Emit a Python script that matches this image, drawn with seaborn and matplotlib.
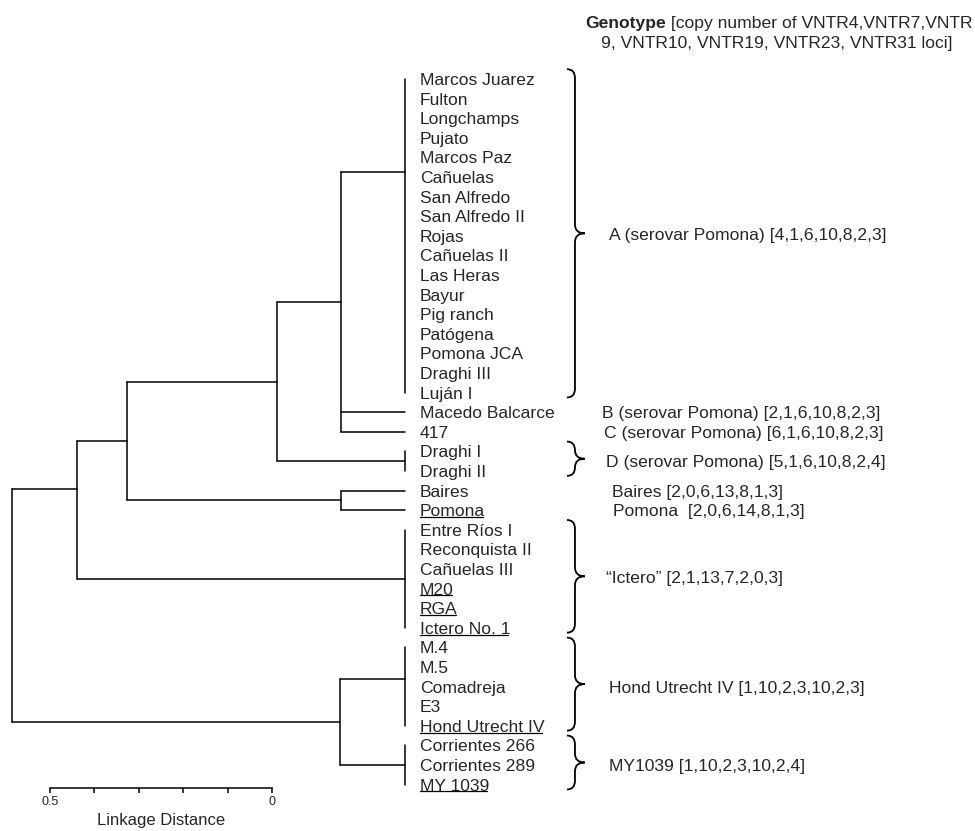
import seaborn as sns
import matplotlib.pyplot as plt
import pandas as pd
from matplotlib.path import Path
from matplotlib.patches import PathPatch
from matplotlib.lines import Line2D
from matplotlib.transforms import IdentityTransform

# leaves, top to bottom
leaves = ['Marcos Juarez', 'Fulton', 'Longchamps', 'Pujato', 'Marcos Paz', 'Cañuelas',
          'San Alfredo', 'San Alfredo II', 'Rojas', 'Cañuelas II', 'Las Heras', 'Bayur',
          'Pig ranch', 'Patógena', 'Pomona JCA', 'Draghi III', 'Luján I',
          'Macedo Balcarce', '417', 'Draghi I', 'Draghi II', 'Baires', 'Pomona',
          'Entre Ríos I', 'Reconquista II', 'Cañuelas III', 'M20', 'RGA', 'Ictero No. 1',
          'M.4', 'M.5', 'Comadreja', 'E3', 'Hond Utrecht IV',
          'Corrientes 266', 'Corrientes 289', 'MY 1039']
underlined = ['Pomona', 'M20', 'RGA', 'Ictero No. 1', 'Hond Utrecht IV', 'MY 1039']

# groups of identical genotypes (distance 0): first and last leaf index
group_names = ['A', 'B', 'C', 'D', 'Baires', 'Pomona', 'Ictero', 'Hond', 'MY']
group_first = [0, 17, 18, 19, 21, 22, 23, 29, 34]
group_last = [16, 17, 18, 20, 21, 22, 28, 33, 36]
# where a branch joins its parent, when it is not the middle of the group
anchor = {'A': 4.75, 'Hond': 30.6, 'n1': 20.9}

# merges, bottom-up
merge_names = ['n4', 'n3', 'bp', 'n2', 'n1', 'bt', 'root']
merge_children = [['A', 'B', 'C'], ['n4', 'D'], ['Baires', 'Pomona'], ['n3', 'bp'],
                  ['n2', 'Ictero'], ['Hond', 'MY'], ['n1', 'bt']]
merge_height = [0.145, 0.289, 0.145, 0.627, 0.738, 0.146, 0.885]

# genotype annotations
genotype_labels = ['A (serovar Pomona) [4,1,6,10,8,2,3]',
                   'B (serovar Pomona) [2,1,6,10,8,2,3]',
                   'C (serovar Pomona) [6,1,6,10,8,2,3]',
                   'D (serovar Pomona) [5,1,6,10,8,2,4]',
                   'Baires [2,0,6,13,8,1,3]',
                   'Pomona  [2,0,6,14,8,1,3]',
                   '\u201cIctero\u201d [2,1,13,7,2,0,3]',
                   'Hond Utrecht IV [1,10,2,3,10,2,3]',
                   'MY1039 [1,10,2,3,10,2,4]']
genotype_pos = [7.9, 17, 18, 19.5, 21, 22, 25.4, 31, 35]
genotype_x = [-0.46, -0.445, -0.449, -0.454, -0.466, -0.468, -0.454, -0.459, -0.459]
brace_groups = ['A', 'D', 'Ictero', 'Hond', 'MY']

FS = 12.6


def brace(ax, y0, y1, x0=-0.365, w=0.04, r=0.45):
    r = min(r, (y1 - y0) / 4)
    xm, xt, ym = x0 - w * 0.45, x0 - w, (y0 + y1) / 2
    verts = [(x0, y0), (xm, y0), (xm, y0 + r), (xm, ym - r), (xm, ym), (xt, ym),
             (xm, ym), (xm, ym + r), (xm, y1 - r), (xm, y1), (x0, y1)]
    codes = [Path.MOVETO, Path.CURVE3, Path.CURVE3, Path.LINETO, Path.CURVE3, Path.CURVE3,
             Path.CURVE3, Path.CURVE3, Path.LINETO, Path.CURVE3, Path.CURVE3]
    ax.add_patch(PathPatch(Path(verts, codes), fill=False, lw=1.3, color='black'))


def main():
    sns.set_theme(style='white')
    plt.rcParams['font.family'] = ['Liberation Sans', 'DejaVu Sans']

    # build dendrogram segments
    rows, pos, height = [], {}, {}
    seg = 0
    for name, a, b in zip(group_names, group_first, group_last):
        pos[name] = anchor.get(name, (a + b) / 2)
        height[name] = 0.0
        if b > a:
            rows += [(seg, 0.0, a), (seg, 0.0, b)]
            seg += 1
    for name, kids, h in zip(merge_names, merge_children, merge_height):
        ys = [pos[k] for k in kids]
        rows += [(seg, h, min(ys)), (seg, h, max(ys))]
        seg += 1
        for k in kids:
            rows += [(seg, height[k], pos[k]), (seg, h, pos[k])]
            seg += 1
        pos[name] = anchor.get(name, (min(ys) + max(ys)) / 2)
        height[name] = h
    df = pd.DataFrame(rows, columns=['seg', 'dist', 'leaf'])

    fig = plt.figure(figsize=(9.75, 8.31), dpi=100)
    ax = fig.add_axes([0, 0, 1, 1])
    sns.lineplot(data=df, x='dist', y='leaf', units='seg', estimator=None, sort=False,
                 color='black', lw=1.1, ax=ax)
    ax.set_xlim(0.912, -1.284)
    ax.set_ylim(38.37, -4.03)
    ax.axis('off')

    texts = []
    for i, name in enumerate(leaves):
        t = ax.annotate(name, (0, i), xytext=(10.8, 0), textcoords='offset points',
                        va='center_baseline', fontsize=FS)
        texts.append(t)

    for g in brace_groups:
        k = group_names.index(g)
        brace(ax, group_first[k] - 0.5, group_last[k] + 0.25)

    for lab, y, x in zip(genotype_labels, genotype_pos, genotype_x):
        ax.text(x, y, lab, va='center_baseline', fontsize=FS)

    # header
    t1 = fig.text(585 / 975, 1 - 22 / 831, 'Genotype', weight='bold', fontsize=FS,
                  va='center_baseline')
    ax.annotate(' [copy number of VNTR4,VNTR7,VNTR', xy=(1, 0), xycoords=t1,
                va='bottom', fontsize=FS)
    fig.text(777 / 975, 1 - 42 / 831, '9, VNTR10, VNTR19, VNTR23, VNTR31 loci]',
             ha='center', va='center_baseline', fontsize=FS)

    # scale bar
    sax = fig.add_axes([50 / 975, 43 / 831, 222 / 975, 0.001])
    sax.set_facecolor('none')
    for s in ['top', 'left', 'right']:
        sax.spines[s].set_visible(False)
    sax.spines['bottom'].set_linewidth(1.1)
    sax.spines['bottom'].set_color('black')
    sax.set_xlim(0.5, 0)
    sax.set_yticks([])
    sax.set_xticks([0.5, 0.4, 0.3, 0.2, 0.1, 0.0])
    sax.set_xticklabels(['0.5', '', '', '', '', '0'])
    sax.tick_params(axis='x', bottom=True, direction='out', length=3.5, width=1.1,
                    labelsize=9, pad=2.5, color='black')
    sax.set_xlabel('Linkage Distance', fontsize=12, labelpad=3)

    # underline selected leaf labels
    fig.canvas.draw()
    for t in texts:
        if t.get_text() in underlined:
            bb = t.get_window_extent()
            fig.add_artist(Line2D([bb.x0, bb.x1 - 2], [bb.y0 + 2.2, bb.y0 + 2.2],
                                  transform=IdentityTransform(), color='black', lw=0.9))

    fig.savefig('out.png', dpi=100)


if __name__ == '__main__':
    main()
